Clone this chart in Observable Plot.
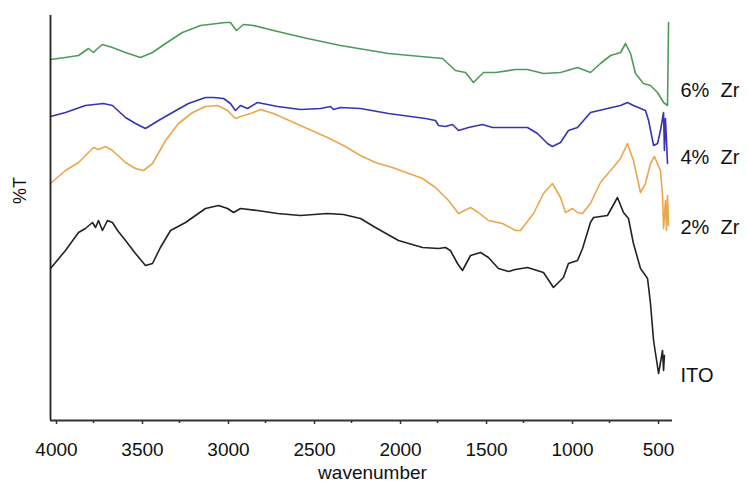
<!DOCTYPE html>
<html>
<head>
<meta charset="utf-8">
<script src="https://cdn.jsdelivr.net/npm/d3@7"></script>
<script src="https://cdn.jsdelivr.net/npm/@observablehq/plot@0.6"></script>
<style>
  html, body { margin: 0; padding: 0; background: #fff; }
  #chart { width: 748px; height: 482px; }
</style>
</head>
<body>
<div id="chart"></div>
<script>
// Wavenumber (cm-1) and relative %T (arbitrary offset units) for each sample
const wnZr6 = [4000,3913,3837,3779,3750,3733,3698,3640,3564,3477,3407,3331,3233,3128,2983,2954,2919,2878,2820,2704,2506,2314,2140,2035,1721,1646,1587,1541,1483,1413,1297,1227,1134,1035,936,861,803,744,686,657,628,599,553,512,471,436,413,407];
const tZr6  = [361,363,365,372,368,371,376,373,368,363,368,377,388,395,398,398,390,396,395,390,382,375,370,367,362,350,348,338,348,348,351,351,347,348,353,348,357,365,368,377,367,347,337,335,328,318,315,398];

const wnZr4 = [4000,3913,3797,3692,3640,3564,3506,3448,3372,3291,3198,3099,3052,2994,2954,2925,2895,2855,2797,2680,2547,2430,2372,2355,2314,2198,2035,1820,1762,1744,1704,1663,1628,1570,1489,1430,1297,1227,1169,1111,1082,1035,989,936,861,762,686,646,611,541,523,494,471,454,436,431,425,413];
const tZr4  = [304,308,315,317,315,303,297,292,300,308,317,323,323,322,317,310,315,312,318,314,311,312,314,311,313,312,307,302,300,295,294,296,290,293,296,293,293,293,287,277,274,278,290,293,308,312,315,318,315,310,300,275,277,290,308,270,302,257];

const wnZr2 = [4000,3913,3837,3779,3750,3721,3680,3640,3564,3506,3459,3407,3331,3256,3174,3099,3029,2971,2925,2895,2837,2779,2704,2547,2390,2297,2198,2111,2012,1837,1762,1686,1628,1558,1512,1454,1372,1297,1268,1192,1134,1082,1035,1006,965,936,907,861,803,744,686,646,611,570,541,512,489,454,442,436,425,419,413,407];
const tZr2  = [237,250,258,268,273,271,274,270,258,252,250,257,280,297,308,314,315,310,302,304,307,311,307,295,283,275,265,258,253,242,233,220,207,213,208,200,197,190,190,207,227,237,223,208,212,208,207,217,238,250,262,277,260,228,237,257,264,250,225,192,220,190,225,195];

const wnITO = [4000,3913,3837,3797,3756,3738,3721,3698,3669,3640,3610,3564,3506,3448,3407,3361,3302,3215,3099,3023,2971,2936,2895,2797,2680,2547,2390,2297,2198,2111,1977,1837,1744,1704,1675,1634,1605,1558,1500,1454,1396,1337,1297,1227,1134,1076,1018,989,936,907,861,843,762,704,669,640,611,570,529,512,494,465,442,436,431];
const tITO  = [152,170,188,192,198,193,200,190,200,198,190,180,167,155,157,173,190,198,212,215,212,208,212,210,207,205,207,206,202,193,180,173,172,173,170,157,150,165,168,163,152,149,151,153,148,133,143,157,160,172,198,203,205,223,208,202,177,152,142,117,80,47,70,50,65];

const seriesNames  = ["6%  Zr", "4%  Zr", "2%  Zr", "ITO"];
const seriesColors = ["#4c9c58", "#3434b4", "#eba64c", "#222222"];
const labelY = [330, 263, 193, 45];

const majorTicks = [4000, 3500, 3000, 2500, 2000, 1500, 1000, 500];
const minorTicks = [3750, 3250, 2750, 2250, 1750, 1250, 750];

const toRows = (wn, t, s) => wn.map((w, i) => ({wn: w, t: t[i], s}));
const rows = [
  ...toRows(wnZr6, tZr6, seriesNames[0]),
  ...toRows(wnZr4, tZr4, seriesNames[1]),
  ...toRows(wnZr2, tZr2, seriesNames[2]),
  ...toRows(wnITO, tITO, seriesNames[3])
];
const labels = seriesNames.map((s, i) => ({s, y: labelY[i]}));

const font = "'Liberation Sans', Arial, Helvetica, sans-serif";

const chart = Plot.plot({
  width: 748,
  height: 482,
  marginLeft: 50,
  marginRight: 76,
  marginTop: 15,
  marginBottom: 62,
  style: {fontFamily: font, fontSize: "20px", color: "#111", background: "#fff"},
  x: {domain: [4000, 384], label: null},
  y: {domain: [0, 405], label: null, axis: null},
  color: {domain: seriesNames, range: seriesColors},
  marks: [
    Plot.axisX({ticks: minorTicks, tickSize: 3, text: null, stroke: "#333", strokeWidth: 1.5, label: null}),
    Plot.axisX({ticks: majorTicks, tickSize: 4, tickPadding: 18, dx: 6, tickFormat: d => String(d), stroke: "#333", strokeWidth: 1.5, fontSize: 19, fill: "#111", label: null}),
    Plot.lineY(rows, {x: "wn", y: "t", z: "s", stroke: "s", strokeWidth: 1.6, curve: "linear"}),
    Plot.ruleX([4000], {stroke: "#222", strokeWidth: 1.8}),
    Plot.ruleY([0], {stroke: "#333", strokeWidth: 2}),
    Plot.text(labels, {frameAnchor: "right", y: "y", text: "s", dx: 8, textAnchor: "start", fontSize: 20, fill: "#111"}),
    Plot.text(["wavenumber"], {frameAnchor: "bottom", dy: 58, dx: 11, lineAnchor: "bottom", fontSize: 19, fill: "#111"}),
    Plot.text(["%T"], {frameAnchor: "left", dx: -30, dy: -14, rotate: -90, fontSize: 18, fill: "#111"})
  ]
});
document.getElementById("chart").appendChild(chart);
</script>
</body>
</html>
